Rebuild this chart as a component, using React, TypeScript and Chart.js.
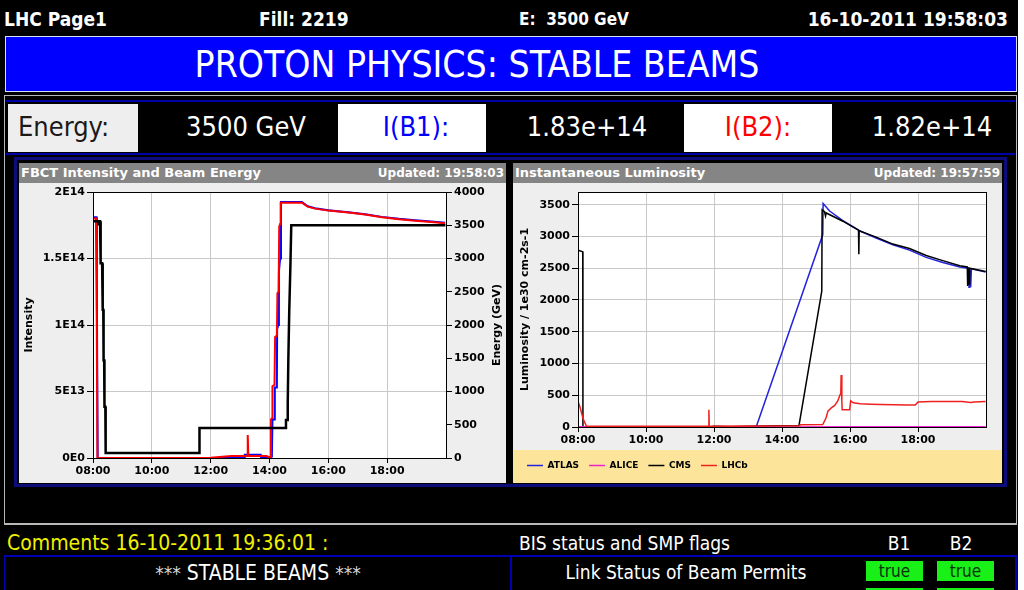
import React, { useEffect, useRef } from "react";
import { Chart, registerables } from "chart.js";

Chart.register(...registerables);

// ---------------- data ----------------
const hourTicks = [8, 10, 12, 14, 16, 18];
const hourLabels = ["08:00", "10:00", "12:00", "14:00", "16:00", "18:00"];

const intensityTicks = [0, 5e13, 1e14, 1.5e14, 2e14];
const intensityLabels = ["0E0", "5E13", "1E14", "1.5E14", "2E14"];
const energyTicks = [0, 500, 1000, 1500, 2000, 2500, 3000, 3500, 4000];
const lumiTicks = [0, 500, 1000, 1500, 2000, 2500, 3000, 3500];

// Beam energy (GeV)
const energyTime = [8.0, 8.17, 8.18, 8.2, 8.24, 8.26, 8.31, 8.33, 8.35, 8.36, 8.38, 8.39, 8.42, 8.43, 11.61, 11.62, 14.53, 14.56, 14.6, 14.62, 14.64, 14.67, 14.71, 14.74, 19.98];
const energyGeV = [3560, 3560, 3500, 3560, 3560, 2930, 2930, 2230, 2230, 1470, 1470, 770, 770, 75, 75, 450, 450, 570, 570, 820, 1470, 2180, 2880, 3500, 3500];

// FBCT intensity beam 2
const b2Time = [8.0, 8.1, 8.12, 8.15, 12.0, 12.7, 13.24, 13.26, 13.28, 13.9, 14.02, 14.05, 14.09, 14.1, 14.17, 14.19, 14.25, 14.27, 14.31, 14.33, 14.36, 14.38, 15.1, 15.3, 15.55, 16.0, 16.68, 17.25, 17.82, 18.4, 18.95, 19.5, 19.97];
const b2Intensity = [1.8e14, 1.8e14, 1.35e14, 0, 2e11, 1.5e12, 1.5e12, 1.73e13, 1.5e12, 1.5e12, 2e11, 2.9e13, 3.0e13, 5.4e13, 5.5e13, 9.1e13, 9.2e13, 1.24e14, 1.25e14, 1.74e14, 1.76e14, 1.92e14, 1.92e14, 1.89e14, 1.875e14, 1.86e14, 1.845e14, 1.83e14, 1.81e14, 1.795e14, 1.784e14, 1.775e14, 1.765e14];

// FBCT intensity beam 1
const b1Time = [8.0, 8.12, 8.13, 8.16, 13.15, 13.16, 13.7, 13.72, 14.08, 14.1, 14.16, 14.18, 14.25, 14.26, 14.3, 14.32, 14.36, 14.39, 15.1, 15.3, 15.55, 16.0, 16.68, 17.25, 17.82, 18.4, 18.95, 19.5, 19.97];
const b1Intensity = [1.81e14, 1.81e14, 1.3e14, 0, 0, 2.5e12, 2.5e12, 0, 1e12, 2.9e13, 2.9e13, 5.3e13, 5.3e13, 9.7e13, 1.0e14, 1.4e14, 1.5e14, 1.925e14, 1.925e14, 1.893e14, 1.878e14, 1.863e14, 1.848e14, 1.833e14, 1.813e14, 1.798e14, 1.787e14, 1.778e14, 1.768e14];

// Instantaneous luminosity (1e30 cm-2 s-1)
const atlasTime = [8.15, 13.24, 15.2, 15.21, 15.4, 15.79, 16.28, 16.77, 17.26, 17.75, 18.24, 18.73, 19.23, 19.48, 19.5, 19.52, 19.55, 19.57, 19.99];
const atlasLumi = [0, 0, 3030, 3520, 3400, 3250, 3090, 2975, 2870, 2785, 2670, 2590, 2520, 2500, 2200, 2480, 2200, 2490, 2440];

const aliceTime = [8.0, 10.0, 12.0, 14.0, 16.0, 18.0, 19.99];
const aliceLumi = [2, 1, 2, 1, 3, 2, 2];

const cmsTime = [8.0, 8.14, 8.145, 11.9, 12.0, 12.5, 13.8, 14.5, 15.17, 15.18, 15.25, 15.28, 15.3, 15.79, 16.25, 16.26, 16.27, 16.77, 17.26, 17.75, 18.24, 18.73, 19.23, 19.45, 19.46, 19.48, 19.5, 19.52, 19.99];
const cmsLumi = [2785, 2760, 0, 0, 10, 5, 20, 25, 2140, 3420, 3390, 3320, 3370, 3240, 3100, 2720, 3090, 2990, 2880, 2810, 2700, 2620, 2540, 2520, 2220, 2510, 2250, 2500, 2450];

const lhcbTime = [8.0, 8.05, 8.15, 8.25, 11.83, 11.85, 11.86, 14.5, 14.55, 15.2, 15.3, 15.35, 15.45, 15.55, 15.64, 15.71, 15.73, 15.74, 15.76, 15.77, 15.99, 16.02, 16.1, 16.3, 16.6, 16.9, 17.3, 17.7, 17.92, 18.0, 18.4, 18.9, 19.3, 19.55, 19.65, 19.99];
const lhcbLumi = [400, 330, 130, 10, 10, 270, 10, 20, 35, 40, 150, 250, 300, 340, 410, 510, 560, 820, 400, 270, 270, 410, 380, 365, 360, 355, 350, 345, 345, 395, 400, 400, 400, 385, 395, 400];

// ---------------- helpers ----------------
const pts = (t: number[], v: number[]) => t.map((x, i) => ({ x, y: v[i] }));
const TICK_FONT = { family: "DejaVu Sans", size: 11, weight: "bold" as const };
const COND = '"DejaVu Sans Condensed", "DejaVu Sans", sans-serif';

const frameBg = {
  id: "frameBg",
  beforeDraw(chart: any) {
    const { ctx, chartArea: a, width, height } = chart;
    ctx.save();
    ctx.fillStyle = "#eeeeee";
    ctx.fillRect(0, 0, width, height);
    if (chart.legend && chart.legend.options.display) {
      ctx.fillStyle = "#fce59b";
      ctx.fillRect(0, chart.legend.top - 1, width, height - chart.legend.top + 1);
    }
    ctx.fillStyle = "#ffffff";
    ctx.fillRect(a.left, a.top, a.right - a.left, a.bottom - a.top);
    ctx.restore();
  },
  afterDraw(chart: any) {
    const { ctx, chartArea: a } = chart;
    ctx.save();
    ctx.strokeStyle = "#000";
    ctx.lineWidth = 1;
    ctx.strokeRect(Math.round(a.left) + 0.5, Math.round(a.top) + 0.5, Math.round(a.right - a.left), Math.round(a.bottom - a.top));
    const rt = chart.options.plugins.rightTitle;
    if (rt && rt.text) {
      ctx.translate(rt.x, (a.top + a.bottom) / 2);
      ctx.rotate(-Math.PI / 2);
      ctx.fillStyle = "#000";
      ctx.font = "bold 11px 'DejaVu Sans'";
      ctx.textAlign = "center";
      ctx.textBaseline = "middle";
      ctx.fillText(rt.text, 0, 0);
    }
    ctx.restore();
  },
};

const xScale = (height: number) => ({
  type: "linear" as const,
  min: 8,
  max: 20,
  afterBuildTicks: (s: any) => {
    s.ticks = hourTicks.map((value) => ({ value }));
  },
  afterFit: (s: any) => {
    s.height = height;
  },
  ticks: {
    font: TICK_FONT,
    color: "#000",
    maxRotation: 0,
    autoSkip: false,
    padding: 2,
    callback: (_v: any, i: number) => hourLabels[i],
  },
  grid: { color: "#c8c8c8", tickColor: "#000", tickLength: 5 },
  border: { color: "#000" },
});

function useChart(ref: React.RefObject<HTMLCanvasElement>, make: () => any) {
  useEffect(() => {
    if (!ref.current) return;
    const chart = new Chart(ref.current, make());
    return () => chart.destroy();
  }, []);
}

function FbctChart() {
  const ref = useRef<HTMLCanvasElement>(null);
  useChart(ref, () => ({
    type: "line",
    data: {
      datasets: [
        { label: "Energy", data: pts(energyTime, energyGeV), yAxisID: "yE", borderColor: "#000000", borderWidth: 2.5, pointRadius: 0, tension: 0 },
        { label: "I(B2)", data: pts(b2Time, b2Intensity), yAxisID: "yI", borderColor: "#ff0000", borderWidth: 2, pointRadius: 0, tension: 0 },
        { label: "I(B1)", data: pts(b1Time, b1Intensity), yAxisID: "yI", borderColor: "#0000ff", borderWidth: 2, pointRadius: 0, tension: 0 },
      ],
    },
    options: {
      animation: false,
      responsive: false,
      devicePixelRatio: 1,
      layout: { padding: { top: 9, left: 0, right: 0, bottom: 0 } },
      plugins: {
        legend: { display: false },
        tooltip: { enabled: false },
        rightTitle: { text: "Energy (GeV)", x: 478 },
      },
      scales: {
        x: xScale(25),
        yI: {
          position: "left",
          min: 0,
          max: 2e14,
          afterBuildTicks: (s: any) => {
            s.ticks = intensityTicks.map((value) => ({ value }));
          },
          afterFit: (s: any) => {
            s.width = 74;
          },
          ticks: { font: TICK_FONT, color: "#000", padding: 2, callback: (_v: any, i: number) => intensityLabels[i] },
          grid: { color: "#c8c8c8", tickColor: "#000", tickLength: 6 },
          border: { color: "#000" },
          title: { display: true, text: "Intensity", color: "#000", font: TICK_FONT, padding: { top: 4, bottom: 4 } },
        },
        yE: {
          position: "right",
          min: 0,
          max: 4000,
          afterBuildTicks: (s: any) => {
            s.ticks = energyTicks.map((value) => ({ value }));
          },
          afterFit: (s: any) => {
            s.width = 60;
          },
          ticks: { font: TICK_FONT, color: "#000", padding: 2, callback: (v: any) => String(v) },
          grid: { drawOnChartArea: false, tickColor: "#000", tickLength: 6 },
          border: { color: "#000" },
        },
      },
    },
    plugins: [frameBg],
  }));
  return <canvas ref={ref} width={487} height={300} style={{ display: "block", width: 487, height: 300 }} />;
}

function LumiChart() {
  const ref = useRef<HTMLCanvasElement>(null);
  useChart(ref, () => ({
    type: "line",
    data: {
      datasets: [
        { label: "ATLAS", data: pts(atlasTime, atlasLumi), borderColor: "#2323dd", borderWidth: 1.5, pointRadius: 0, tension: 0, order: 3 },
        { label: "ALICE", data: pts(aliceTime, aliceLumi), borderColor: "#ee22cc", borderWidth: 1.5, pointRadius: 0, tension: 0, order: 1 },
        { label: "CMS", data: pts(cmsTime, cmsLumi), borderColor: "#000000", borderWidth: 1.5, pointRadius: 0, tension: 0, order: 2 },
        { label: "LHCb", data: pts(lhcbTime, lhcbLumi), borderColor: "#f02020", borderWidth: 1.5, pointRadius: 0, tension: 0, order: 0 },
      ],
    },
    options: {
      animation: false,
      responsive: false,
      devicePixelRatio: 1,
      layout: { padding: { top: 9, left: 4, right: 16, bottom: 3 } },
      plugins: {
        tooltip: { enabled: false },
        legend: {
          display: true,
          position: "bottom",
          align: "start",
          labels: {
            usePointStyle: true,
            pointStyle: "line",
            pointStyleWidth: 16,
            padding: 10,
            color: "#000",
            font: { family: "DejaVu Sans", size: 9, weight: "bold" },
            sort: (a: any, b: any) => a.datasetIndex - b.datasetIndex,
          },
        },
      },
      scales: {
        x: xScale(24),
        y: {
          position: "left",
          min: 0,
          max: 3700,
          afterBuildTicks: (s: any) => {
            s.ticks = lumiTicks.map((value) => ({ value }));
          },
          afterFit: (s: any) => {
            s.width = 61;
          },
          ticks: { font: TICK_FONT, color: "#000", padding: 2, callback: (v: any) => String(v) },
          grid: { color: "#c8c8c8", tickColor: "#000", tickLength: 6 },
          border: { color: "#000" },
          title: { display: true, text: "Luminosity / 1e30 cm-2s-1", color: "#000", font: TICK_FONT, padding: { top: 2, bottom: 2 } },
        },
      },
    },
    plugins: [frameBg],
  }));
  return <canvas ref={ref} width={489} height={300} style={{ display: "block", width: 489, height: 300 }} />;
}

// ---------------- layout helpers ----------------
const abs = (s: React.CSSProperties): React.CSSProperties => ({ position: "absolute", ...s });

function Txt(props: { x: number; cy: number; size: number; color?: string; bold?: boolean; align?: "left" | "center" | "right"; w?: number; children: React.ReactNode }) {
  const { x, cy, size, color = "#fff", bold, align = "left", w, children } = props;
  const h = Math.round(size * 1.4);
  const style: React.CSSProperties = {
    position: "absolute",
    top: cy - h / 2,
    height: h,
    lineHeight: h + "px",
    fontSize: size,
    fontWeight: bold ? "bold" : "normal",
    color,
    whiteSpace: "pre",
    fontFamily: COND,
  };
  if (align === "left") style.left = x;
  else if (align === "right") style.right = 1018 - x;
  else {
    style.left = x - (w || 400) / 2;
    style.width = w || 400;
    style.textAlign = "center";
  }
  return <div style={style}>{children}</div>;
}

function Panel(props: { x: number; w: number; title: string; updated: string; children: React.ReactNode }) {
  const { x, w, title, updated, children } = props;
  return (
    <div style={abs({ left: x, top: 163, width: w, height: 320, background: "#eeeeee" })}>
      <div
        style={abs({
          left: 0,
          top: 0,
          width: w,
          height: 20,
          background: "#858585",
          color: "#fff",
          fontFamily: "'DejaVu Sans', sans-serif",
          fontWeight: "bold",
          lineHeight: "20px",
        })}
      >
        <span style={abs({ left: 2, top: 0, fontSize: 13 })}>{title}</span>
        <span style={abs({ right: 2, top: 0, fontSize: 12 })}>{updated}</span>
      </div>
      <div style={abs({ left: 0, top: 20 })}>{children}</div>
    </div>
  );
}

function Cell(props: { x: number; w: number; bg: string }) {
  return <div style={abs({ left: props.x, top: 104, width: props.w, height: 48, background: props.bg })} />;
}

function GreenBox(props: { x: number; y: number; label?: string }) {
  return (
    <div
      style={abs({
        left: props.x,
        top: props.y,
        width: 57,
        height: 20,
        background: "#18f018",
        color: "#0a300a",
        fontFamily: COND,
        fontSize: 17,
        lineHeight: "20px",
        textAlign: "center",
      })}
    >
      {props.label}
    </div>
  );
}

export default function App() {
  return (
    <div style={abs({ left: 0, top: 0, width: 1024, height: 590, background: "#fff", overflow: "hidden" })}>
      <div style={abs({ left: 0, top: 0, width: 1018, height: 590, background: "#000", overflow: "hidden" })}>
        {/* top bar */}
        <Txt x={4} cy={19} size={19} bold>LHC Page1</Txt>
        <Txt x={259} cy={19} size={19} bold>Fill: 2219</Txt>
        <Txt x={519} cy={19} size={17} bold>{"E:  3500 GeV"}</Txt>
        <Txt x={1008} cy={19} size={19} bold align="right">16-10-2011 19:58:03</Txt>

        {/* banner */}
        <div style={abs({ left: 5, top: 36, width: 1010, height: 54, background: "#0000ff", border: "1px solid #d6dcff" })} />
        <Txt x={477} cy={65} size={37} align="center" w={800}>PROTON PHYSICS: STABLE BEAMS</Txt>

        {/* big frame */}
        <div style={abs({ left: 4, top: 95, width: 1011, height: 427, borderTop: "1px solid #b8b8b8", borderLeft: "1px solid #b8b8b8", borderRight: "1px solid #b8b8b8", borderBottom: "2px solid #b8b8b8" })} />
        <div style={abs({ left: 6, top: 100, width: 1009, height: 2, background: "#0000a8" })} />
        <div style={abs({ left: 6, top: 153, width: 1009, height: 2, background: "#0000a8" })} />

        {/* energy row */}
        <Cell x={8} w={130} bg="#eeeeee" />
        <Cell x={338} w={148} bg="#ffffff" />
        <Cell x={684} w={148} bg="#ffffff" />
        <Txt x={18} cy={127} size={27} color="#1a1a1a">Energy:</Txt>
        <Txt x={246} cy={127} size={27} align="center" w={200}>3500 GeV</Txt>
        <Txt x={416} cy={127} size={27} align="center" w={148} color="#0000ff">I(B1):</Txt>
        <Txt x={587} cy={127} size={27} align="center" w={198}>1.83e+14</Txt>
        <Txt x={758} cy={127} size={27} align="center" w={148} color="#ff0000">I(B2):</Txt>
        <Txt x={932} cy={127} size={27} align="center" w={178}>1.82e+14</Txt>

        {/* chart container */}
        <div style={abs({ left: 14, top: 157, width: 987, height: 324, border: "3px solid #0c0c7a" })} />
        <Panel x={19} w={487} title="FBCT Intensity and Beam Energy" updated="Updated: 19:58:03">
          <FbctChart />
        </Panel>
        <Panel x={513} w={489} title="Instantaneous Luminosity" updated="Updated: 19:57:59">
          <LumiChart />
        </Panel>

        {/* bottom */}
        <Txt x={7} cy={543} size={21} color="#f0f000">Comments 16-10-2011 19:36:01 :</Txt>
        <Txt x={519} cy={543} size={19}>BIS status and SMP flags</Txt>
        <Txt x={899} cy={543} size={19} align="center" w={60}>B1</Txt>
        <Txt x={961} cy={543} size={19} align="center" w={60}>B2</Txt>

        <div style={abs({ left: 4, top: 555, width: 1012, height: 2, background: "#0000b0" })} />
        <div style={abs({ left: 4, top: 555, width: 1, height: 40, background: "#0000b0" })} />
        <div style={abs({ left: 510, top: 555, width: 2, height: 40, background: "#0000b0" })} />
        <div style={abs({ left: 1015, top: 555, width: 2, height: 40, background: "#0000b0" })} />

        <div style={abs({ left: 58, top: 560, width: 400, height: 26, lineHeight: "26px", textAlign: "center", color: "#fff", fontFamily: COND, fontSize: 21, whiteSpace: "pre" })}>
          <span style={{ fontSize: 19, color: "#d8d8d8" }}>***</span> STABLE BEAMS <span style={{ fontSize: 19, color: "#d8d8d8" }}>***</span>
        </div>
        <Txt x={686} cy={572} size={19} align="center" w={300}>Link Status of Beam Permits</Txt>
        <GreenBox x={866} y={561} label="true" />
        <GreenBox x={937} y={561} label="true" />
        <GreenBox x={866} y={588} />
        <GreenBox x={937} y={588} />
      </div>
    </div>
  );
}
